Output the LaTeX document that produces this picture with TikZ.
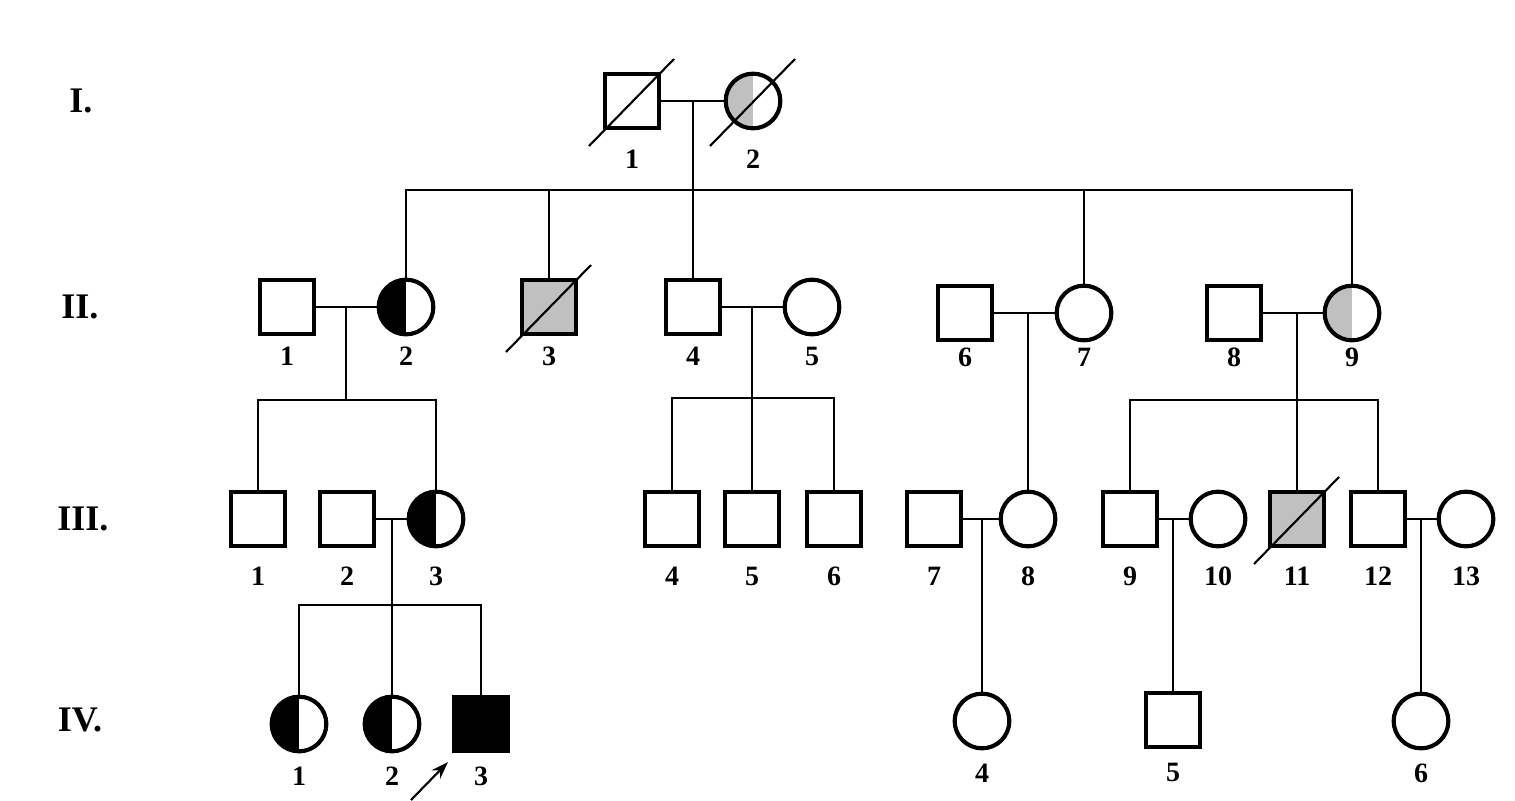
\documentclass[tikz,border=0pt]{standalone}
\usepackage{fontspec}
\setmainfont{Liberation Serif}
\usetikzlibrary{arrows.meta}
\definecolor{carrgray}{RGB}{192,192,192}

\tikzset{
	male/.style={draw,rectangle,line width=3.1pt,minimum size=41pt,inner sep=0pt},
	female/.style={draw,circle,line width=3.1pt,minimum size=41pt,inner sep=0pt},
	halfblack/.style={path picture={\fill[black] (path picture bounding box.south) rectangle (path picture bounding box.north west);}},
	halfgray/.style={path picture={\fill[carrgray] (path picture bounding box.south) rectangle (path picture bounding box.north west);}},
	affected/.style={fill=black},
	grayfill/.style={fill=carrgray},
	line/.style={line width=1.6pt},
	slash/.style={line width=1.6pt},
	gen/.style={font=\bfseries\fontsize{27}{27}\selectfont},
	every label/.style={font=\bfseries\fontsize{21}{21}\selectfont,inner sep=0pt},
}

\begin{document}
\begin{tikzpicture}[x=0.75pt,y=0.75pt,yscale=-1,xscale=1]
	\useasboundingbox (0,0) rectangle (1515,800);

	% Generation labels
	\node[gen] (gI) at (81,101) {I.};
	\node[gen] (gII) at (80,307) {II.};
	\node[gen] (gIII) at (83,519) {III.};
	\node[gen] (gIV) at (80,720) {IV.};

	% Generation I
	\begin{scope}[label distance=14.5pt]
	\node[male,label=below:1] (i1) at (632,101) {};
	\node[female,halfgray,label=below:2] (i2) at (753,101) {};
	\end{scope}

	% Generation II
	\begin{scope}[label distance=8pt]
	\node[male,label=below:1] (ii1) at (287,307) {};
	\node[female,halfblack,label=below:2] (ii2) at (406,307) {};
	\node[male,grayfill,label=below:3] (ii3) at (549,307) {};
	\node[male,label=below:4] (ii4) at (693,307) {};
	\node[female,label=below:5] (ii5) at (812,307) {};
	\end{scope}
	\begin{scope}[label distance=4pt]
	\node[male,label=below:6] (ii6) at (965,313) {};
	\node[female,label=below:7] (ii7) at (1084,313) {};
	\node[male,label=below:8] (ii8) at (1234,313) {};
	\node[female,halfgray,label=below:9] (ii9) at (1352,313) {};
	\end{scope}

	% Generation III
	\begin{scope}[label distance=14pt]
	\node[male,label=below:1] (iii1) at (258,519) {};
	\node[male,label=below:2] (iii2) at (347,519) {};
	\node[female,halfblack,label=below:3] (iii3) at (436,519) {};
	\node[male,label=below:4] (iii4) at (672,519) {};
	\node[male,label=below:5] (iii5) at (752,519) {};
	\node[male,label=below:6] (iii6) at (834,519) {};
	\node[male,label=below:7] (iii7) at (934,519) {};
	\node[female,label=below:8] (iii8) at (1028,519) {};
	\node[male,label=below:9] (iii9) at (1130,519) {};
	\node[female,label=below:10] (iii10) at (1218,519) {};
	\node[male,grayfill,label=below:11] (iii11) at (1297,519) {};
	\node[male,label=below:12] (iii12) at (1378,519) {};
	\node[female,label=below:13] (iii13) at (1466,519) {};
	\end{scope}

	% Generation IV
	\begin{scope}[label distance=10pt]
	\node[female,halfblack,label=below:1] (iv1) at (299,724) {};
	\node[female,halfblack,label=below:2] (iv2) at (392,724) {};
	\node[male,affected,label=below:3] (iv3) at (481,724) {};
	\node[female,label=below:4] (iv4) at (982,721) {};
	\node[male,label=below:5] (iv5) at (1173,720) {};
	\node[female,label=below:6] (iv6) at (1421,721) {};
	\end{scope}

	% deceased
	\foreach \p in {i1,i2,ii3,iii11}
		\draw[slash] ([shift={(-43,45)}]\p.center) -- ([shift={(42,-42)}]\p.center);

	% marriage and sibship points
	\coordinate (m1) at (693,101);
	\coordinate (m2) at (346,307);
	\coordinate (m3) at (752,307);
	\coordinate (m4) at (1028,313);
	\coordinate (m5) at (1297,313);
	\coordinate (m6) at (392,519);
	\coordinate (m7) at (982,519);
	\coordinate (m8) at (1173,519);
	\coordinate (m9) at (1421,519);
	\coordinate (sII) at (693,190);
	\coordinate (sIIIa) at (346,400);
	\coordinate (sIIIb) at (752,398);
	\coordinate (sIIIc) at (1297,400);
	\coordinate (sIV) at (392,605);

	% marriages
	\draw[line] (i1.east) -- (i2.west);
	\draw[line] (ii1.east) -- (ii2.west);
	\draw[line] (ii4.east) -- (ii5.west);
	\draw[line] (ii6.east) -- (ii7.west);
	\draw[line] (ii8.east) -- (ii9.west);
	\draw[line] (iii2.east) -- (iii3.west);
	\draw[line] (iii7.east) -- (iii8.west);
	\draw[line] (iii9.east) -- (iii10.west);
	\draw[line] (iii12.east) -- (iii13.west);

	% descents
	\draw[line] (m1) -- (ii4.north);
	\draw[line] (ii2.north) |- (sII) -| (ii9.north);
	\foreach \c in {ii3,ii7}
		\draw[line] (\c.north) |- (sII);
	\draw[line] (m2) -- (sIIIa);
	\draw[line] (iii1.north) |- (sIIIa) -| (iii3.north);
	\draw[line] (m3) -- (iii5.north);
	\draw[line] (iii4.north) |- (sIIIb) -| (iii6.north);
	\draw[line] (m4) -- (iii8.north);
	\draw[line] (m5) -- (iii11.north);
	\draw[line] (iii9.north) |- (sIIIc) -| (iii12.north);
	\draw[line] (m6) -- (iv2.north);
	\draw[line] (iv1.north) |- (sIV) -| (iv3.north);
	\draw[line] (m7) -- (iv4.north);
	\draw[line] (m8) -- (iv5.north);
	\draw[line] (m9) -- (iv6.north);

	% proband
	\coordinate (pb) at (411,800);
	\coordinate (pt) at (448,762);
	\draw[line,-{Stealth[length=13pt,width=9pt]}] (pb) -- (pt);

\end{tikzpicture}
\end{document}
